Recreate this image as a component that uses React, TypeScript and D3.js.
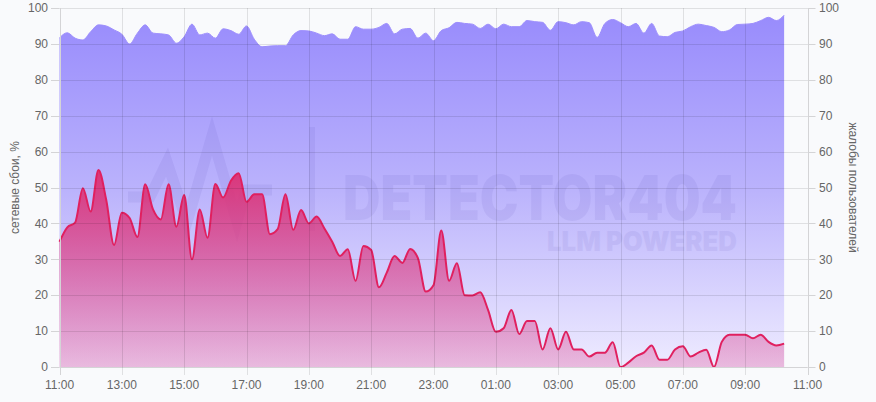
import React from "react";
import * as d3 from "d3";

const W = 876;
const H = 402;

const startTime = new Date(2024, 4, 14, 11, 0, 0);
const stepMinutes = 15;

// сетевые сбои, % (left axis)
const networkFailures = [
  34.9, 38.9, 40.2, 49.8, 43.3, 54.9, 46.5, 34, 43, 41.5,
  36.2, 50.9, 43.9, 41.1, 50.9, 39.1, 47.9, 30, 43.9, 36,
  51, 47.2, 51.9, 54, 46, 48.1, 48.1, 37, 38.4, 48.1,
  38.2, 43.7, 40, 41.9, 38.6, 34.9, 30.9, 32.8, 24, 33.7,
  32.6, 22.2, 26.3, 30.9, 29, 32.9, 30.3, 21, 22.8, 38,
  24, 28.9, 20, 19.9, 20.8, 15.9, 9.8, 10.8, 15.9, 9.2,
  12.8, 12.8, 4.9, 10.8, 4.9, 9.8, 4.9, 4.9, 2.9, 4,
  4, 6.9, 0, 1.2, 3, 4, 6, 2, 2, 4.9,
  5.8, 2.9, 4, 4.8, 0, 7, 9, 9, 9, 8,
  9, 7, 6, 6.5,
];

// жалобы пользователей (right axis)
const userComplaints = [
  91.7, 93.1, 91.6, 91.1, 93.4, 95.3, 95, 93.9, 92.7, 90,
  93, 95.3, 93, 92.8, 92.5, 90.2, 92, 95.5, 92.5, 93,
  91.6, 94.2, 93.7, 92.7, 95, 91.3, 89.2, 89.4, 89.5, 89.5,
  92.5, 93.7, 93.6, 93, 92.3, 92.8, 91.3, 91.3, 94.8, 94.1,
  94.1, 94.6, 95.7, 92.8, 94.1, 94.3, 91.6, 93, 90.9, 93.7,
  94.5, 96, 95.7, 95.5, 94.3, 95.5, 94.2, 95.5, 94.8, 94.8,
  96.5, 96.2, 96, 93.8, 96.2, 95.9, 95.3, 96.2, 95.9, 91.8,
  95.7, 96.8, 95.9, 94.8, 95.7, 93, 95.7, 92.2, 92, 93.2,
  93.6, 94.8, 95.5, 95.1, 94.6, 93.4, 93.9, 95.4, 95.5, 95.7,
  96.5, 97.4, 96.5, 98,
];

const yTicks = [0, 10, 20, 30, 40, 50, 60, 70, 80, 90, 100];
const xTickLabels = [
  "11:00", "13:00", "15:00", "17:00", "19:00", "21:00", "23:00",
  "01:00", "03:00", "05:00", "07:00", "09:00", "11:00",
];
const leftTitle = "сетевые сбои, %";
const rightTitle = "жалобы пользователей";

type Pt = { t: Date; v: number };

function toSeries(values: number[]): Pt[] {
  return values.map((v, i) => ({
    t: new Date(startTime.getTime() + i * stepMinutes * 60000),
    v,
  }));
}

export default function App() {
  const left = 59.5;
  const right = 807.5;
  const top = 8;
  const bottom = 367;

  const endTime = new Date(startTime.getTime() + 24 * 3600000);
  const x = d3.scaleTime().domain([startTime, endTime]).range([left, right]);
  const y = d3.scaleLinear().domain([0, 100]).range([bottom, top]);

  const failures = toSeries(networkFailures);
  const complaints = toSeries(userComplaints);

  const area = d3
    .area<Pt>()
    .x((d) => x(d.t))
    .y0(y(0))
    .y1((d) => y(d.v))
    .curve(d3.curveMonotoneX);
  const line = d3
    .line<Pt>()
    .x((d) => x(d.t))
    .y((d) => y(d.v))
    .curve(d3.curveMonotoneX);

  const xTicks = xTickLabels.map((lab, i) => ({
    lab,
    t: new Date(startTime.getTime() + i * 2 * 3600000),
  }));

  const font = "'Liberation Sans', Arial, Helvetica, sans-serif";
  const gridColor = "rgba(0,0,0,0.1)";
  const axisColor = "#d4d4d6";

  const cy = (top + bottom) / 2;

  return (
    <svg
      width={W}
      height={H}
      style={{ position: "absolute", left: 0, top: 0, background: "#f9fafc" }}
    >
      <defs>
        <linearGradient id="purpleGrad" gradientUnits="userSpaceOnUse" x1="0" y1={top} x2="0" y2={bottom}>
          <stop offset="0" stopColor="#978afc" />
          <stop offset="0.5" stopColor="#bab2fc" />
          <stop offset="1" stopColor="#eeebff" />
        </linearGradient>
        <linearGradient id="pinkGrad" gradientUnits="userSpaceOnUse" x1="0" y1={y(55)} x2="0" y2={bottom}>
          <stop offset="0" stopColor="#dc2f72" stopOpacity="0.95" />
          <stop offset="1" stopColor="#dc3c8c" stopOpacity="0.28" />
        </linearGradient>
      </defs>

      {/* fills */}
      <path d={area(complaints) || ""} fill="url(#purpleGrad)" />
      <path d={line(complaints) || ""} fill="none" stroke="#9d8efc" strokeWidth={1} />

      {/* watermark */}
      <g opacity={0.07} fill="#3c2fa0" stroke="#3c2fa0">
        <polyline
          points="128,197 150,197 167,162 187,222 212,136 237,222 246,190 272,190"
          fill="none"
          strokeWidth={11}
          strokeLinejoin="miter"
        />
        <rect x={309} y={127} width={6} height={104} stroke="none" />
        <text fontFamily="Inter, 'Open Sans', sans-serif" fontWeight={900} stroke="none">
          <tspan
            x={343}
            y={220}
            fontSize={62}
            textLength={394}
            lengthAdjust="spacingAndGlyphs"
          >
            DETECTOR404
          </tspan>
          <tspan
            x={547}
            y={251}
            fontSize={27}
            textLength={190}
            lengthAdjust="spacingAndGlyphs"
          >
            LLM POWERED
          </tspan>
        </text>
      </g>

      <path d={area(failures) || ""} fill="url(#pinkGrad)" />
      <path d={line(failures) || ""} fill="none" stroke="#e0205f" strokeWidth={2} />

      {/* grid */}
      {yTicks.map((t) => (
        <line
          key={"gy" + t}
          x1={left}
          x2={right}
          y1={Math.round(y(t)) + 0.5}
          y2={Math.round(y(t)) + 0.5}
          stroke={t === 0 ? axisColor : gridColor}
        />
      ))}
      {xTicks.map((d, i) => (
        <line
          key={"gx" + i}
          x1={Math.round(x(d.t)) + 0.5}
          x2={Math.round(x(d.t)) + 0.5}
          y1={top}
          y2={bottom + 8}
          stroke={i === 0 || i === xTicks.length - 1 ? axisColor : gridColor}
        />
      ))}

      {/* left & right ticks */}
      {yTicks.map((t) => (
        <g key={"ly" + t}>
          <line x1={51} x2={left} y1={Math.round(y(t)) + 0.5} y2={Math.round(y(t)) + 0.5} stroke={axisColor} />
          <text x={48} y={y(t)} dy="0.35em" textAnchor="end" fontFamily={font} fontSize={12} fill="#666">
            {t}
          </text>
          <line x1={right} x2={815.5} y1={Math.round(y(t)) + 0.5} y2={Math.round(y(t)) + 0.5} stroke={axisColor} />
          <text x={819} y={y(t)} dy="0.35em" textAnchor="start" fontFamily={font} fontSize={12} fill="#666">
            {t}
          </text>
        </g>
      ))}

      {/* bottom labels */}
      {xTicks.map((d, i) => (
        <text
          key={"lx" + i}
          x={x(d.t)}
          y={389}
          textAnchor="middle"
          fontFamily={font}
          fontSize={12}
          fill="#666"
        >
          {d.lab}
        </text>
      ))}

      {/* axis titles */}
      <text
        transform={`translate(18.5,${cy}) rotate(-90)`}
        textAnchor="middle"
        fontFamily={font}
        fontSize={12}
        fill="#666"
      >
        {leftTitle}
      </text>
      <text
        transform={`translate(849,${cy}) rotate(90)`}
        textAnchor="middle"
        fontFamily={font}
        fontSize={12}
        fill="#666"
      >
        {rightTitle}
      </text>
    </svg>
  );
}
